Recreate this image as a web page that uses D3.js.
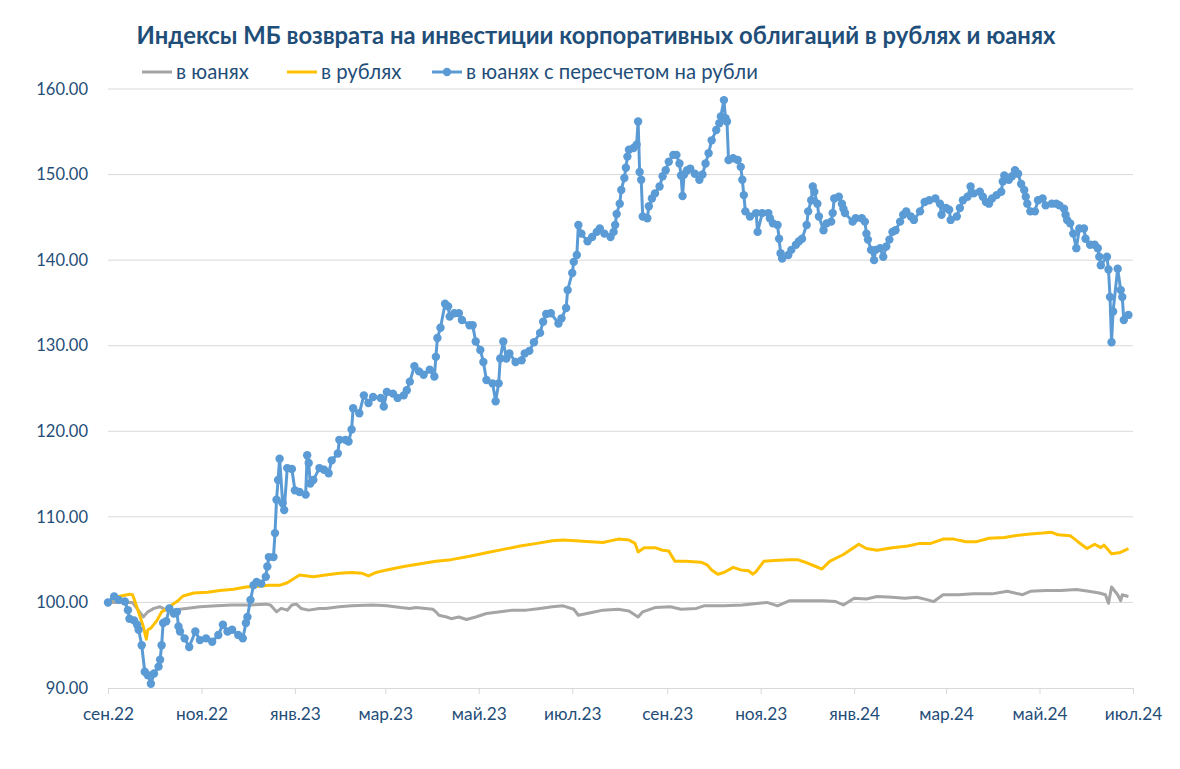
<!DOCTYPE html>
<html>
<head>
<meta charset="utf-8">
<script src="https://cdn.jsdelivr.net/npm/d3@7/dist/d3.min.js"></script>
<style>
  html, body { margin: 0; padding: 0; background: #fff; }
  svg { display: block; font-family: Lato, "Open Sans", sans-serif; }
</style>
</head>
<body>
<svg id="chart" width="1180" height="769"></svg>
<script>
// Chart text
const chartTitle = "Индексы МБ возврата на инвестиции корпоративных облигаций в рублях и юанях";
const seriesNames = ["в юанях", "в рублях", "в юанях с пересчетом на рубли"];

// Axis ticks
const yTicks = [90, 100, 110, 120, 130, 140, 150, 160];
const xTickDates = ["2022-09-01","2022-11-01","2023-01-01","2023-03-01","2023-05-01","2023-07-01",
                    "2023-09-01","2023-11-01","2024-01-01","2024-03-01","2024-05-01","2024-07-01"];
const xTickLabels = ["сен.22","ноя.22","янв.23","мар.23","май.23","июл.23",
                     "сен.23","ноя.23","янв.24","мар.24","май.24","июл.24"];

// Index in yuan
const cnyIndex = [
["2022-09-01",100.0],["2022-09-17",100.0],["2022-09-24",98.3],["2022-09-27",98.9],["2022-10-01",99.3],
["2022-10-05",99.5],["2022-10-09",99.1],["2022-10-13",99.1],["2022-10-22",99.3],["2022-10-31",99.5],
["2022-11-11",99.6],["2022-11-21",99.7],["2022-12-03",99.7],["2022-12-13",99.8],["2022-12-16",99.7],
["2022-12-20",98.9],["2022-12-23",99.3],["2022-12-27",99.1],["2022-12-30",99.7],["2023-01-02",99.8],
["2023-01-05",99.3],["2023-01-10",99.1],["2023-01-17",99.3],["2023-01-21",99.3],["2023-01-30",99.5],
["2023-02-07",99.6],["2023-02-21",99.7],["2023-03-02",99.6],["2023-03-11",99.4],["2023-03-17",99.3],
["2023-03-21",99.4],["2023-04-01",99.2],["2023-04-03",98.9],["2023-04-05",98.5],["2023-04-10",98.3],
["2023-04-13",98.1],["2023-04-18",98.3],["2023-04-23",98.0],["2023-04-29",98.3],["2023-05-06",98.7],
["2023-05-15",98.9],["2023-05-23",99.1],["2023-06-01",99.1],["2023-06-10",99.3],["2023-06-18",99.5],
["2023-06-25",99.6],["2023-07-02",99.2],["2023-07-05",98.5],["2023-07-13",98.8],["2023-07-21",99.1],
["2023-07-31",99.2],["2023-08-07",99.0],["2023-08-13",98.3],["2023-08-16",98.9],["2023-08-24",99.4],
["2023-09-03",99.5],["2023-09-10",99.2],["2023-09-20",99.3],["2023-09-25",99.6],["2023-10-08",99.6],
["2023-10-20",99.7],["2023-11-05",100.0],["2023-11-12",99.6],["2023-11-20",100.2],["2023-12-02",100.2],
["2023-12-12",100.2],["2023-12-20",100.1],["2023-12-25",99.7],["2024-01-01",100.5],["2024-01-09",100.4],
["2024-01-16",100.7],["2024-01-26",100.6],["2024-02-03",100.5],["2024-02-11",100.6],["2024-02-18",100.3],
["2024-02-22",100.1],["2024-02-28",100.9],["2024-03-09",100.9],["2024-03-19",101.0],["2024-03-31",101.0],
["2024-04-10",101.3],["2024-04-20",100.9],["2024-04-25",101.3],["2024-05-05",101.4],["2024-05-15",101.4],
["2024-05-25",101.5],["2024-06-02",101.3],["2024-06-09",101.1],["2024-06-13",100.9],["2024-06-15",99.9],
["2024-06-17",101.8],["2024-06-21",100.9],["2024-06-23",100.2],["2024-06-24",100.9],["2024-06-28",100.7]
];

// Index in rubles
const rubIndex = [
["2022-09-01",100.0],["2022-09-05",100.5],["2022-09-08",100.7],["2022-09-15",100.95],["2022-09-17",100.9],
["2022-09-19",99.9],["2022-09-22",98.3],["2022-09-24",97.2],["2022-09-26",95.7],["2022-09-27",96.8],
["2022-09-29",97.0],["2022-10-03",97.9],["2022-10-06",98.9],["2022-10-08",99.1],["2022-10-11",99.5],
["2022-10-16",100.1],["2022-10-20",100.75],["2022-10-27",101.1],["2022-11-05",101.2],["2022-11-13",101.4],
["2022-11-22",101.55],["2022-11-30",101.8],["2022-12-09",101.9],["2022-12-15",102.0],["2022-12-22",102.0],
["2022-12-27",102.3],["2023-01-04",103.2],["2023-01-13",103.0],["2023-01-21",103.2],["2023-01-30",103.4],
["2023-02-07",103.5],["2023-02-14",103.4],["2023-02-18",103.1],["2023-02-23",103.5],["2023-03-02",103.8],
["2023-03-13",104.2],["2023-03-23",104.5],["2023-04-03",104.8],["2023-04-13",105.0],["2023-04-25",105.4],
["2023-05-06",105.8],["2023-05-17",106.2],["2023-05-28",106.6],["2023-06-08",106.9],["2023-06-18",107.2],
["2023-06-25",107.3],["2023-07-03",107.2],["2023-07-13",107.1],["2023-07-21",107.0],["2023-07-31",107.4],
["2023-08-07",107.3],["2023-08-11",106.9],["2023-08-13",105.9],["2023-08-17",106.4],["2023-08-24",106.4],
["2023-08-29",106.1],["2023-09-02",106.0],["2023-09-06",104.8],["2023-09-13",104.8],["2023-09-23",104.7],
["2023-09-27",104.4],["2023-09-30",103.8],["2023-10-04",103.3],["2023-10-08",103.5],["2023-10-14",104.1],
["2023-10-19",103.8],["2023-10-24",103.7],["2023-10-27",103.3],["2023-10-29",103.6],["2023-11-03",104.8],
["2023-11-10",104.9],["2023-11-20",105.0],["2023-11-25",105.0],["2023-11-30",104.7],["2023-12-07",104.2],
["2023-12-11",103.9],["2023-12-16",104.8],["2023-12-25",105.6],["2024-01-04",106.8],["2024-01-09",106.3],
["2024-01-16",106.1],["2024-01-26",106.4],["2024-02-05",106.6],["2024-02-13",106.9],["2024-02-20",106.9],
["2024-02-28",107.4],["2024-03-06",107.4],["2024-03-14",107.1],["2024-03-21",107.1],["2024-03-29",107.5],
["2024-04-08",107.6],["2024-04-15",107.8],["2024-04-25",108.0],["2024-05-03",108.1],["2024-05-09",108.2],
["2024-05-13",107.9],["2024-05-21",107.8],["2024-05-26",107.1],["2024-06-01",106.3],["2024-06-06",106.8],
["2024-06-10",106.4],["2024-06-12",106.7],["2024-06-17",105.7],["2024-06-22",105.8],["2024-06-26",106.1],
["2024-06-28",106.3]
];

// Yuan index recalculated into rubles
const cnyInRub = [
["2022-09-01",100.0],["2022-09-05",100.7],["2022-09-08",100.3],["2022-09-12",100.1],["2022-09-14",99.1],
["2022-09-15",98.1],["2022-09-18",97.9],["2022-09-20",97.4],["2022-09-21",96.8],["2022-09-23",95.0],
["2022-09-25",91.9],["2022-09-27",91.5],["2022-09-29",90.5],["2022-10-01",91.7],["2022-10-04",92.5],
["2022-10-05",93.3],["2022-10-06",95.0],["2022-10-07",97.6],["2022-10-09",97.8],["2022-10-11",99.3],
["2022-10-14",98.7],["2022-10-16",98.9],["2022-10-17",97.2],["2022-10-18",96.6],["2022-10-21",95.8],
["2022-10-24",94.8],["2022-10-28",96.6],["2022-10-31",95.6],["2022-11-04",95.8],["2022-11-08",95.4],
["2022-11-12",96.2],["2022-11-15",97.4],["2022-11-18",96.6],["2022-11-21",96.8],["2022-11-25",96.2],
["2022-11-28",95.8],["2022-11-30",97.6],["2022-12-01",98.3],["2022-12-03",100.3],["2022-12-05",102.0],
["2022-12-07",102.4],["2022-12-10",102.2],["2022-12-13",103.0],["2022-12-14",104.2],["2022-12-15",105.3],
["2022-12-18",105.3],["2022-12-19",108.1],["2022-12-20",112.0],["2022-12-21",114.3],["2022-12-22",116.8],
["2022-12-24",111.6],["2022-12-25",110.8],["2022-12-27",115.7],["2022-12-30",115.6],["2023-01-01",113.1],
["2023-01-04",112.9],["2023-01-08",112.6],["2023-01-09",117.2],["2023-01-10",116.3],["2023-01-11",113.9],
["2023-01-13",114.3],["2023-01-17",115.7],["2023-01-20",115.5],["2023-01-23",115.1],["2023-01-25",116.6],
["2023-01-29",117.4],["2023-01-30",119.0],["2023-02-03",119.0],["2023-02-05",118.8],["2023-02-07",120.2],
["2023-02-08",122.7],["2023-02-12",122.1],["2023-02-15",124.2],["2023-02-18",123.3],["2023-02-21",124.0],
["2023-02-26",123.9],["2023-02-28",122.9],["2023-03-02",124.6],["2023-03-06",124.4],["2023-03-09",123.9],
["2023-03-13",124.2],["2023-03-15",124.8],["2023-03-17",125.8],["2023-03-20",127.6],["2023-03-23",127.0],
["2023-03-26",126.6],["2023-03-30",127.2],["2023-04-02",126.4],["2023-04-03",128.7],["2023-04-04",130.9],
["2023-04-06",132.1],["2023-04-09",134.9],["2023-04-11",134.6],["2023-04-12",133.4],["2023-04-15",133.8],
["2023-04-18",133.8],["2023-04-20",133.0],["2023-04-25",132.4],["2023-04-27",132.4],["2023-04-29",130.5],
["2023-05-02",129.5],["2023-05-04",128.1],["2023-05-06",126.0],["2023-05-10",125.6],["2023-05-12",123.5],
["2023-05-14",125.6],["2023-05-15",128.5],["2023-05-17",130.5],["2023-05-19",128.5],["2023-05-21",129.1],
["2023-05-25",128.1],["2023-05-29",128.3],["2023-05-31",129.1],["2023-06-03",129.4],["2023-06-06",130.4],
["2023-06-10",131.5],["2023-06-12",132.8],["2023-06-14",133.7],["2023-06-17",133.8],["2023-06-22",132.6],
["2023-06-24",133.2],["2023-06-27",134.4],["2023-06-28",136.5],["2023-07-01",138.5],["2023-07-02",139.8],
["2023-07-04",140.6],["2023-07-05",144.1],["2023-07-07",143.1],["2023-07-11",142.2],["2023-07-14",142.7],
["2023-07-17",143.3],["2023-07-19",143.7],["2023-07-22",143.1],["2023-07-26",142.7],["2023-07-28",143.3],
["2023-07-29",144.1],["2023-07-30",145.4],["2023-08-01",146.6],["2023-08-02",148.2],["2023-08-04",149.6],
["2023-08-05",150.8],["2023-08-06",152.1],["2023-08-07",152.9],["2023-08-10",153.1],["2023-08-12",153.5],
["2023-08-13",156.2],["2023-08-14",150.3],["2023-08-15",149.4],["2023-08-16",145.1],["2023-08-19",144.9],
["2023-08-20",146.3],["2023-08-22",147.2],["2023-08-24",147.8],["2023-08-27",148.6],["2023-08-29",149.8],
["2023-08-31",150.5],["2023-09-02",151.5],["2023-09-05",152.3],["2023-09-07",152.3],["2023-09-09",151.3],
["2023-09-10",149.9],["2023-09-11",147.5],["2023-09-12",150.0],["2023-09-14",150.5],["2023-09-16",150.7],
["2023-09-19",150.1],["2023-09-22",149.4],["2023-09-24",150.0],["2023-09-26",151.3],["2023-09-28",152.5],
["2023-09-30",154.0],["2023-10-03",155.2],["2023-10-05",156.0],["2023-10-06",156.8],["2023-10-08",158.7],
["2023-10-09",156.6],["2023-10-10",156.2],["2023-10-11",151.7],["2023-10-14",151.9],["2023-10-17",151.7],
["2023-10-19",150.9],["2023-10-20",149.4],["2023-10-21",147.6],["2023-10-22",145.7],["2023-10-25",145.1],
["2023-10-29",145.5],["2023-10-30",143.3],["2023-11-02",145.5],["2023-11-06",145.5],["2023-11-07",144.9],
["2023-11-09",144.3],["2023-11-12",144.1],["2023-11-13",142.5],["2023-11-14",140.8],["2023-11-15",140.2],
["2023-11-19",140.6],["2023-11-21",141.2],["2023-11-24",141.8],["2023-11-26",142.2],["2023-11-28",142.5],
["2023-12-01",144.1],["2023-12-02",145.7],["2023-12-04",147.0],["2023-12-05",148.6],["2023-12-06",148.0],
["2023-12-08",146.6],["2023-12-09",145.1],["2023-12-12",143.5],["2023-12-14",144.3],["2023-12-17",144.5],
["2023-12-18",145.5],["2023-12-19",147.2],["2023-12-22",147.4],["2023-12-24",146.6],["2023-12-25",146.0],
["2023-12-26",145.5],["2023-12-31",144.5],["2024-01-02",144.9],["2024-01-06",144.9],["2024-01-08",144.5],
["2024-01-09",143.1],["2024-01-10",142.4],["2024-01-12",141.2],["2024-01-14",140.0],["2024-01-15",141.2],
["2024-01-18",141.4],["2024-01-20",140.4],["2024-01-22",141.6],["2024-01-24",142.4],["2024-01-26",143.3],
["2024-01-28",143.5],["2024-01-31",144.5],["2024-02-02",145.3],["2024-02-04",145.7],["2024-02-07",145.1],
["2024-02-09",144.7],["2024-02-13",145.7],["2024-02-16",146.8],["2024-02-19",147.0],["2024-02-23",147.2],
["2024-02-26",146.6],["2024-02-27",145.3],["2024-03-01",146.1],["2024-03-03",145.9],["2024-03-04",144.7],
["2024-03-08",145.1],["2024-03-10",146.1],["2024-03-12",147.0],["2024-03-15",147.4],["2024-03-17",148.6],
["2024-03-19",147.8],["2024-03-23",148.0],["2024-03-25",147.4],["2024-03-27",146.8],["2024-03-29",146.6],
["2024-03-31",147.2],["2024-04-03",147.6],["2024-04-06",148.0],["2024-04-07",149.2],["2024-04-08",149.9],
["2024-04-11",149.4],["2024-04-13",149.8],["2024-04-15",150.5],["2024-04-17",150.1],["2024-04-19",148.9],
["2024-04-21",148.2],["2024-04-22",147.4],["2024-04-23",146.6],["2024-04-25",145.7],["2024-04-28",145.7],
["2024-04-30",147.0],["2024-05-03",147.2],["2024-05-05",146.4],["2024-05-09",146.6],["2024-05-12",146.6],
["2024-05-14",146.4],["2024-05-17",146.0],["2024-05-18",145.3],["2024-05-19",144.7],["2024-05-21",144.3],
["2024-05-23",143.1],["2024-05-25",141.4],["2024-05-27",143.7],["2024-05-30",143.7],["2024-05-31",142.5],
["2024-06-03",141.8],["2024-06-06",141.8],["2024-06-08",141.4],["2024-06-09",140.4],["2024-06-10",139.4],
["2024-06-14",140.4],["2024-06-15",138.9],["2024-06-16",135.7],["2024-06-17",130.4],["2024-06-18",134.0],
["2024-06-21",139.0],["2024-06-23",136.5],["2024-06-24",135.7],["2024-06-25",133.0],["2024-06-28",133.6]
];

const parse = d3.timeParse("%Y-%m-%d");
const toPoints = arr => arr.map(([d, v]) => ({ date: parse(d), value: v }));

const svg = d3.select("#chart");
const plot = { left: 108, right: 1133, top: 89, bottom: 688 };

const x = d3.scaleTime()
  .domain([parse("2022-09-01"), parse("2024-07-01")])
  .range([plot.left, plot.right]);
const y = d3.scaleLinear()
  .domain([90, 160])
  .range([plot.bottom, plot.top]);

const axisColor = "#1F4E79";
const textFont = "Lato, 'Open Sans', sans-serif";

// Title
svg.append("text")
  .attr("x", 596).attr("y", 44)
  .attr("text-anchor", "middle")
  .attr("font-size", 23.8).attr("font-weight", 700)
  .attr("font-family", textFont)
  .attr("fill", "#1F4E79")
  .text(chartTitle);

// Horizontal gridlines
svg.append("g")
  .selectAll("line")
  .data(yTicks.slice(1))
  .join("line")
  .attr("x1", plot.left).attr("x2", plot.right)
  .attr("y1", d => y(d)).attr("y2", d => y(d))
  .attr("stroke", "#D9D9D9").attr("stroke-width", 1);

// Y axis labels
const yAxis = d3.axisLeft(y).tickValues(yTicks).tickFormat(d3.format(".2f")).tickSize(0).tickPadding(20);
const gy = svg.append("g").attr("transform", `translate(${plot.left},0)`).call(yAxis);
gy.select(".domain").remove();
gy.selectAll("text").attr("fill", axisColor).attr("font-size", 16.5).attr("font-family", textFont);

// X axis
const xAxis = d3.axisBottom(x)
  .tickValues(xTickDates.map(parse))
  .tickFormat((d, i) => xTickLabels[i])
  .tickSizeInner(6).tickSizeOuter(0).tickPadding(14);
const gx = svg.append("g").attr("transform", `translate(0,${plot.bottom})`).call(xAxis);
gx.select(".domain").attr("stroke", "#D9D9D9");
gx.selectAll(".tick line").attr("stroke", "#D9D9D9");
gx.selectAll("text").attr("fill", axisColor).attr("font-size", 17.3).attr("font-family", textFont);

const line = d3.line().x(d => x(d.date)).y(d => y(d.value));

const series = [
  { name: seriesNames[0], data: toPoints(cnyIndex), color: "#A5A5A5", markers: false },
  { name: seriesNames[1], data: toPoints(rubIndex), color: "#FFC000", markers: false },
  { name: seriesNames[2], data: toPoints(cnyInRub), color: "#5B9BD5", markers: true }
];

series.forEach(s => {
  svg.append("path")
    .datum(s.data)
    .attr("fill", "none")
    .attr("stroke", s.color)
    .attr("stroke-width", 3)
    .attr("stroke-linejoin", "round")
    .attr("d", line);
  if (s.markers) {
    svg.append("g")
      .selectAll("circle")
      .data(s.data)
      .join("circle")
      .attr("cx", d => x(d.date)).attr("cy", d => y(d.value))
      .attr("r", 4.2)
      .attr("fill", s.color);
  }
});

// Legend
const legendItems = [
  { x: 142, color: "#A5A5A5", marker: false, label: seriesNames[0] },
  { x: 287, color: "#FFC000", marker: false, label: seriesNames[1] },
  { x: 432, color: "#5B9BD5", marker: true, label: seriesNames[2] }
];
const lg = svg.append("g").attr("transform", "translate(0,72)");
legendItems.forEach(it => {
  lg.append("line")
    .attr("x1", it.x).attr("x2", it.x + 30)
    .attr("y1", 0).attr("y2", 0)
    .attr("stroke", it.color).attr("stroke-width", 3);
  if (it.marker) {
    lg.append("circle").attr("cx", it.x + 15).attr("cy", 0).attr("r", 4.2).attr("fill", it.color);
  }
  lg.append("text")
    .attr("x", it.x + 34).attr("y", 6.5)
    .attr("font-size", 20.3).attr("fill", axisColor)
    .attr("font-family", textFont)
    .text(it.label);
});
</script>
</body>
</html>
